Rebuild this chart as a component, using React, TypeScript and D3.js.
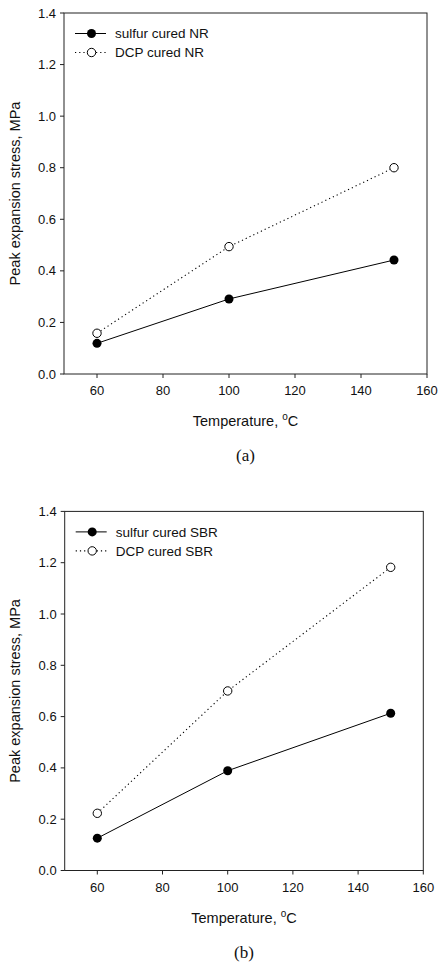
import React from "react";
import * as d3 from "d3";

const temperatures = [60, 100, 150];
const sulfurNR = [0.119, 0.291, 0.442];
const dcpNR = [0.158, 0.494, 0.8];
const sulfurSBR = [0.126, 0.389, 0.613];
const dcpSBR = [0.223, 0.7, 1.182];
const xTicks = [60, 80, 100, 120, 140, 160];
const yTicks = [0, 0.2, 0.4, 0.6, 0.8, 1.0, 1.2, 1.4];
const legendNR = ["sulfur cured NR", "DCP cured NR"];
const legendSBR = ["sulfur cured SBR", "DCP cured SBR"];
const panelLabels = ["(a)", "(b)"];

const W = 439;
const H = 962;
const FONT = "'Liberation Sans', Arial, sans-serif";

type PanelProps = {
  x0: number; x1: number; y0: number; y1: number;
  solid: number[]; dotted: number[]; legend: string[]; label: string;
};

function Panel({ x0, x1, y0, y1, solid, dotted, legend, label }: PanelProps) {
  const x = d3.scaleLinear().domain([50, 160]).range([x0, x1]);
  const y = d3.scaleLinear().domain([0, 1.4]).range([y1, y0]);
  const line = d3.line<[number, number]>().x(d => x(d[0])).y(d => y(d[1]));
  const solidPts = temperatures.map((t, i) => [t, solid[i]] as [number, number]);
  const dotPts = temperatures.map((t, i) => [t, dotted[i]] as [number, number]);
  const axisColor = "#222";
  const cx = (x0 + x1) / 2;
  const cy = (y0 + y1) / 2;
  return (
    <g>
      <rect x={x0} y={y0} width={x1 - x0} height={y1 - y0} fill="none" stroke={axisColor} strokeWidth={1} />
      {yTicks.map(t => (
        <g key={"y" + t}>
          <line x1={x0 - 4} x2={x0} y1={y(t)} y2={y(t)} stroke={axisColor} />
          <text x={x0 - 8} y={y(t)} dy="0.35em" textAnchor="end" fontSize={13} fontFamily={FONT} fill="#111">{t.toFixed(1)}</text>
        </g>
      ))}
      {xTicks.map(t => (
        <g key={"x" + t}>
          <line x1={x(t)} x2={x(t)} y1={y1} y2={y1 + 4} stroke={axisColor} />
          <text x={x(t)} y={y1 + 21} textAnchor="middle" fontSize={13} fontFamily={FONT} fill="#111">{t}</text>
        </g>
      ))}
      <path d={line(dotPts) || ""} fill="none" stroke="#000" strokeWidth={1.1} strokeDasharray="1.2,3" />
      <path d={line(solidPts) || ""} fill="none" stroke="#000" strokeWidth={1} />
      {dotPts.map((p, i) => (
        <circle key={"d" + i} cx={x(p[0])} cy={y(p[1])} r={4.2} fill="#fff" stroke="#000" strokeWidth={1} />
      ))}
      {solidPts.map((p, i) => (
        <circle key={"s" + i} cx={x(p[0])} cy={y(p[1])} r={4.5} fill="#000" />
      ))}
      <g>
        <line x1={x0 + 11} x2={x0 + 42} y1={y0 + 20.5} y2={y0 + 20.5} stroke="#000" />
        <circle cx={x0 + 27.5} cy={y0 + 20.5} r={4.5} fill="#000" />
        <text x={x0 + 51} y={y0 + 20.5} dy="0.35em" fontSize={13.5} fontFamily={FONT} fill="#111">{legend[0]}</text>
        <line x1={x0 + 11} x2={x0 + 42} y1={y0 + 39.5} y2={y0 + 39.5} stroke="#000" strokeDasharray="1.2,3" strokeWidth={1.1} />
        <circle cx={x0 + 27.5} cy={y0 + 39.5} r={4.2} fill="#fff" stroke="#000" />
        <text x={x0 + 51} y={y0 + 39.5} dy="0.35em" fontSize={13.5} fontFamily={FONT} fill="#111">{legend[1]}</text>
      </g>
      <text transform={`translate(15,${cy}) rotate(-90)`} textAnchor="middle" dy="0.35em" fontSize={14.5} fontFamily={FONT} fill="#111">
        Peak expansion stress, MPa
      </text>
      <text x={cx} y={y1 + 52} textAnchor="middle" fontSize={14.5} fontFamily={FONT} fill="#111">
        Temperature, <tspan dy={-6} fontSize={10}>o</tspan><tspan dy={6}>C</tspan>
      </text>
      <text x={cx} y={y1 + 87} textAnchor="middle" fontSize={17} fontFamily="'Liberation Serif', 'Times New Roman', serif" fill="#111">{label}</text>
    </g>
  );
}

export default function App() {
  return (
    <svg width={W} height={H} style={{ position: "absolute", left: 0, top: 0, background: "#fff" }}>
      <rect width={W} height={H} fill="#fff" />
      <Panel x0={64} x1={427} y0={13} y1={374} solid={sulfurNR} dotted={dcpNR} legend={legendNR} label={panelLabels[0]} />
      <Panel x0={64.7} x1={423.3} y0={511.4} y1={870.5} solid={sulfurSBR} dotted={dcpSBR} legend={legendSBR} label={panelLabels[1]} />
    </svg>
  );
}
